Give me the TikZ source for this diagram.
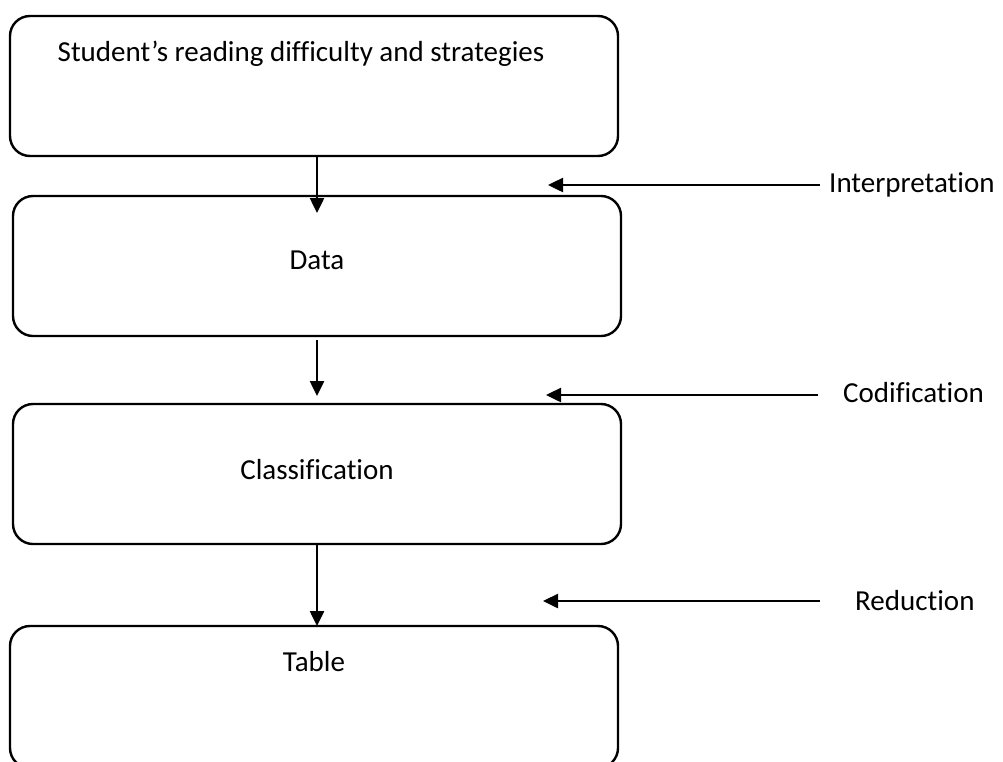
\documentclass[tikz,border=0pt]{standalone}
\usepackage{fontspec}
\setmainfont{Carlito}[Ligatures=NoCommon]
\usetikzlibrary{arrows.meta}
\begin{document}
\begin{tikzpicture}[x=1pt,y=-1pt,
  stagebox/.style={draw,line width=2.4pt,rounded corners=20pt},
  flow/.style={line width=2.5pt,-{Triangle[length=15pt,width=14pt]}},
  lbl/.style={font=\fontsize{29}{34}\selectfont,inner sep=0pt},
  sidelbl/.style={font=\fontsize{29}{34}\selectfont,inner sep=0pt,anchor=west}]
\useasboundingbox (0,0) rectangle (1003,761);
\draw[stagebox] (10,16) rectangle (618,156);
\draw[stagebox] (13,196) rectangle (621,336);
\draw[stagebox] (13,404) rectangle (621,544);
\draw[stagebox] (10,626) rectangle (618,768);
\node[lbl] (t1) at (301,54) {Student’s reading difficulty and strategies};
\node[lbl] (t2) at (317,260) {Data};
\node[lbl] (t3) at (317,470) {Classification};
\node[lbl] (t4) at (314,662) {Table};
\coordinate (b1s) at (317,156);
\coordinate (b2n) at (317,213);
\coordinate (b2s) at (317,340);
\coordinate (b3n) at (317,396);
\coordinate (b3s) at (317,544);
\coordinate (b4n) at (317,626);
\draw[flow] (b1s) -- (b2n);
\draw[flow] (b2s) -- (b3n);
\draw[flow] (b3s) -- (b4n);
\node[sidelbl] (l1) at (829,185) {Interpretation};
\node[sidelbl] (l2) at (843,393) {Codification};
\node[sidelbl] (l3) at (855,601) {Reduction};
\coordinate (e1) at (820,185);
\coordinate (a1) at (548,185);
\coordinate (e2) at (818,395);
\coordinate (a2) at (546,395);
\coordinate (e3) at (820,601);
\coordinate (a3) at (543,601);
\draw[flow] (e1) -- (a1);
\draw[flow] (e2) -- (a2);
\draw[flow] (e3) -- (a3);
\end{tikzpicture}
\end{document}
